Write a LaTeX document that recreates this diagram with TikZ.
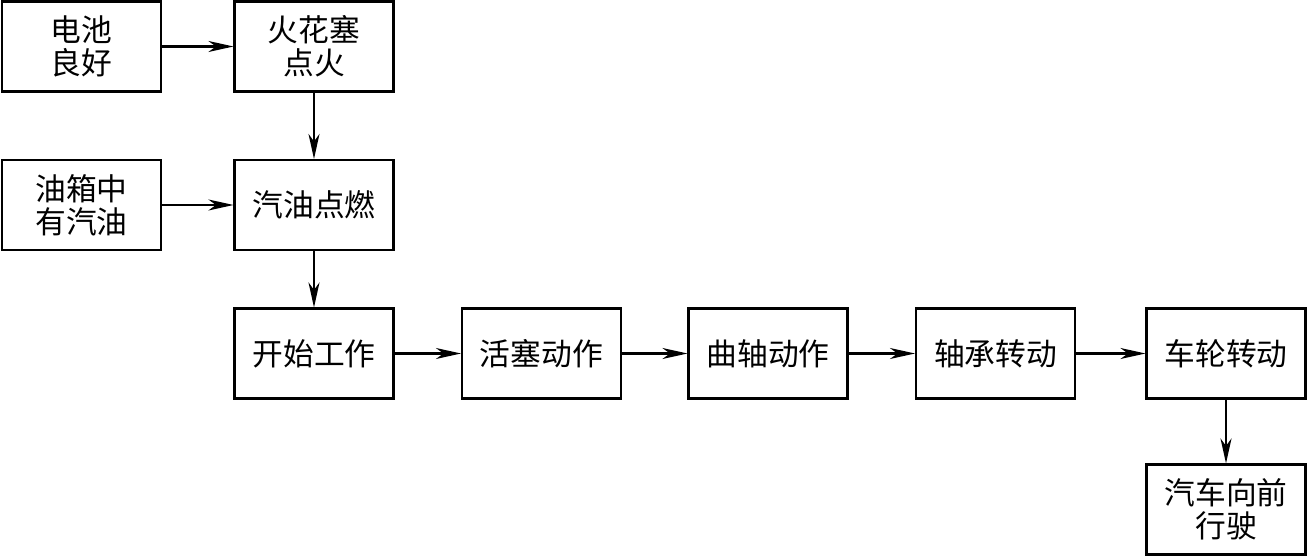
\documentclass[tikz,border=0pt]{standalone}
\usepackage{fontspec}
\setmainfont{Noto Sans CJK SC}
\usepackage{tikz}
\usetikzlibrary{arrows.meta, positioning}
\tikzset{
  block/.style={rectangle, draw=black, fill=white,
    minimum width=3.18cm, minimum height=1.80cm, align=center,
    font=\fontsize{17.5}{19}\selectfont, line width=1.2pt, inner sep=0pt},
  arrow/.style={-{Stealth[length=5mm, width=2.2mm, inset=1.5mm]}, line width=1.2pt}
}
\begin{document}
\begin{tikzpicture}
  \useasboundingbox (0,0) rectangle (26.14,-11.12);

  \node[block] (battery) at (1.63,-0.93) {电池\\良好};
  \node[block] (spark) at (6.28,-0.93) {火花塞\\点火};
  \node[block] (tank) at (1.63,-4.10) {油箱中\\有汽油};
  \node[block] (ignite) at (6.28,-4.10) {汽油点燃};
  \node[block] (start) at (6.28,-7.07) {开始工作};
  \node[block] (piston) at (10.83,-7.07) {活塞动作};
  \node[block] (crank) at (15.36,-7.07) {曲轴动作};
  \node[block] (bearing) at (19.91,-7.07) {轴承转动};
  \node[block] (wheel) at (24.52,-7.07) {车轮转动};
  \node[block] (car) at (24.52,-10.19) {汽车向前\\行驶};

  \draw[arrow] (battery) -- (spark);
  \draw[arrow] (spark) -- (ignite);
  \draw[arrow] (tank) -- (ignite);
  \draw[arrow] (ignite) -- (start);
  \draw[arrow] (start) -- (piston);
  \draw[arrow] (piston) -- (crank);
  \draw[arrow] (crank) -- (bearing);
  \draw[arrow] (bearing) -- (wheel);
  \draw[arrow] (wheel) -- (car);
\end{tikzpicture}
\end{document}
